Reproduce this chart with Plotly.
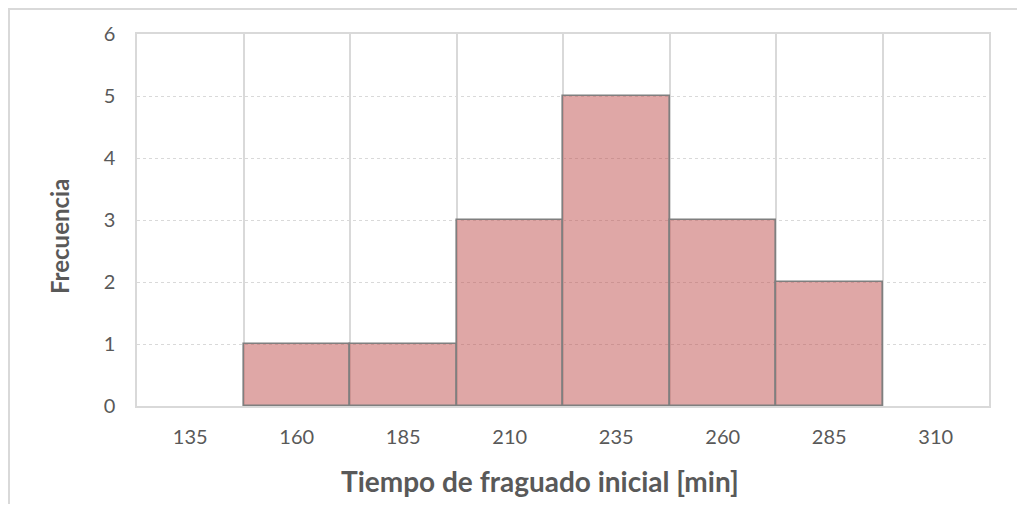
import plotly.graph_objects as go

categories = ["135", "160", "185", "210", "235", "260", "285", "310"]
frequencies = [0, 1, 1, 3, 5, 3, 2, 0]
y_ticks = [0, 1, 2, 3, 4, 5, 6]
x_title = "Tiempo de fraguado inicial [min]"
y_title = "Frecuencia"

FONT = "Lato"
GREY_TXT = "#595959"
GRID = "#D9D9D9"

W, H = 1009, 496
ML, MR, MT, MB = 129, 28, 26, 98
PW, PH = W - ML - MR, H - MT - MB

fig = go.Figure()
fig.add_trace(go.Bar(
    x=categories,
    y=frequencies,
    width=1,
    marker=dict(
        color="rgba(192,80,77,0.5)",
        line=dict(color="#7F7F7F", width=[1.6 if v > 0 else 0 for v in frequencies]),
    ),
    showlegend=False,
))

fig.update_layout(
    width=W,
    height=H,
    margin=dict(l=ML, r=MR, t=MT, b=MB),
    paper_bgcolor="white",
    plot_bgcolor="white",
    font=dict(family=FONT, color=GREY_TXT, size=16),
    bargap=0,
    xaxis=dict(
        type="category",
        tickson="boundaries",
        showgrid=True,
        gridcolor=GRID,
        gridwidth=1.5,
        ticks="",
        showline=True,
        linecolor=GRID,
        linewidth=1.5,
        mirror=True,
        tickfont=dict(family=FONT, size=20, color=GREY_TXT),
        ticklabelstandoff=12,
        range=[-0.5, 7.5],
    ),
    yaxis=dict(
        range=[0, 6],
        tickvals=y_ticks,
        showgrid=True,
        gridcolor=GRID,
        gridwidth=1,
        griddash="dot",
        zeroline=False,
        showline=True,
        linecolor=GRID,
        linewidth=1.5,
        mirror=True,
        ticks="",
        tickfont=dict(family=FONT, size=20, color=GREY_TXT),
        ticklabelstandoff=16,
    ),
    annotations=[
        dict(
            text="<b>" + x_title + "</b>", xref="paper", yref="paper",
            x=(540 - 137) / PW, y=-(481 - 406) / PH,
            xanchor="center", yanchor="middle", showarrow=False,
            font=dict(family=FONT, size=28, color=GREY_TXT),
        ),
        dict(
            text="<b>" + y_title + "</b>", xref="paper", yref="paper",
            x=(60 - 137) / PW, y=1 - (237 - 34) / PH,
            xanchor="center", yanchor="middle", showarrow=False, textangle=-90,
            font=dict(family=FONT, size=24, color=GREY_TXT),
        ),
    ],
    shapes=[dict(
        type="rect", xref="paper", yref="paper",
        x0=(-ML + 1) / PW, x1=(PW + MR + 10) / PW,
        y0=-(MB + 10) / PH, y1=1 + (MT - 1) / PH,
        line=dict(color=GRID, width=2), fillcolor="rgba(0,0,0,0)", layer="below",
    )],
)

fig.write_html("out.html")
